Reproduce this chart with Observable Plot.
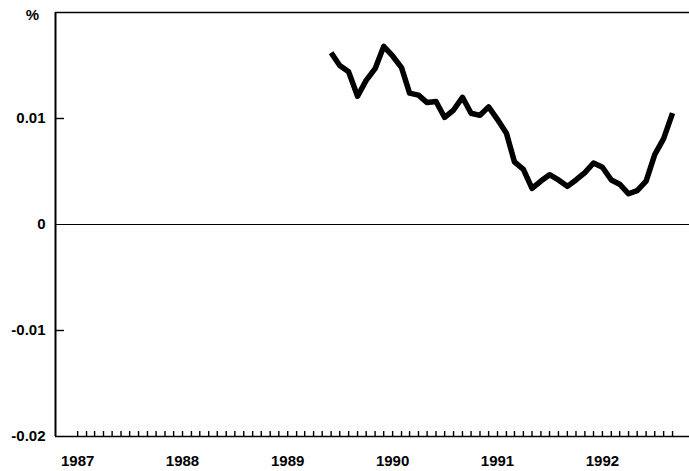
<!DOCTYPE html>
<html><head><meta charset="utf-8">
<script src="https://cdn.jsdelivr.net/npm/d3@7"></script>
<script src="https://cdn.jsdelivr.net/npm/@observablehq/plot@0.6"></script>
<style>html,body{margin:0;padding:0;background:#fff;}</style>
</head><body><div id="chart"></div>
<script>
// Monthly series, June 1989 .. September 1992
const startYear = 1989;
const startMonth = 6;
const values = [
  0.0162, 0.0150, 0.0144, 0.0121, 0.0136, 0.0147, 0.0168,
  0.0159, 0.0148, 0.0124, 0.0122, 0.0115, 0.0116, 0.0101,
  0.0108, 0.0120, 0.0105, 0.0103, 0.0111,
  0.0099, 0.0086, 0.0059, 0.0052, 0.0034, 0.0041, 0.0047,
  0.0042, 0.0036, 0.0042, 0.0049, 0.0058, 0.0054,
  0.0042, 0.0038, 0.0029, 0.0032, 0.0041, 0.0066, 0.0081, 0.0105
];
const yTickValues = [-0.02, -0.01, 0, 0.01];
const yInnerTicks = [-0.01, 0.01];
const yearLabels = [1987, 1988, 1989, 1990, 1991, 1992];
const monthTickStart = [1987, 1];
const monthTickEnd = [1992, 9];
const yDomain = [-0.02, 0.02];
const xDomain = [new Date(Date.UTC(1986, 9, 16)), new Date(Date.UTC(1992, 9, 30))];
const unitLabel = "%";

const data = values.map((v, i) => ({date: new Date(Date.UTC(startYear, startMonth - 1 + i, 1)), value: v}));
const monthTicks = d3.utcMonth.range(
  new Date(Date.UTC(monthTickStart[0], monthTickStart[1] - 1, 1)),
  new Date(Date.UTC(monthTickEnd[0], monthTickEnd[1], 1))
);
const yearTicks = yearLabels.map(y => new Date(Date.UTC(y, 0, 1)));

const W = 689, H = 471, mL = 55, mR = 0, mT = 12, mB = 35;
const font = "'Liberation Sans', Arial, Helvetica, sans-serif";
const fs = 15;

const chart = Plot.plot({
  width: W, height: H,
  marginLeft: mL, marginRight: mR, marginTop: mT, marginBottom: mB,
  style: {fontFamily: font, fontSize: fs + "px", fontWeight: "bold", background: "#fff", color: "#000", overflow: "visible"},
  x: {type: "utc", domain: xDomain, axis: null},
  y: {domain: yDomain, axis: null},
  marks: [
    Plot.ruleY([yDomain[1]], {stroke: "#000", strokeWidth: 1.6}),
    Plot.ruleY([yDomain[0]], {stroke: "#000", strokeWidth: 1.6}),
    Plot.ruleY([0], {stroke: "#000", strokeWidth: 1.2}),
    Plot.ruleX([xDomain[0]], {stroke: "#000", strokeWidth: 2}),
    Plot.tickX(monthTicks, {x: d => d, stroke: "#000", strokeWidth: 1.4, insetTop: (H - mT - mB) - 5}),
    Plot.tickY(yInnerTicks, {y: d => d, stroke: "#000", strokeWidth: 1.4, insetRight: (W - mL - mR) - 9}),
    Plot.axisY({ticks: yTickValues, tickSize: 0, tickPadding: 10, tickFormat: d => d === 0 ? "0" : d.toFixed(2), label: null, fontWeight: "bold", fontSize: fs}),
    Plot.axisX({ticks: yearTicks, tickSize: 0, tickPadding: 19, tickFormat: d3.utcFormat("%Y"), label: null, fontWeight: "bold", fontSize: fs}),
    Plot.text([unitLabel], {frameAnchor: "top-left", dx: -23, dy: 3, textAnchor: "middle", lineAnchor: "middle", fontWeight: "bold", fontSize: fs}),
    Plot.line(data, {x: "date", y: "value", stroke: "#000", strokeWidth: 5.5, strokeLinejoin: "round", strokeLinecap: "butt"})
  ]
});
document.getElementById("chart").appendChild(chart);
</script>
</body></html>
